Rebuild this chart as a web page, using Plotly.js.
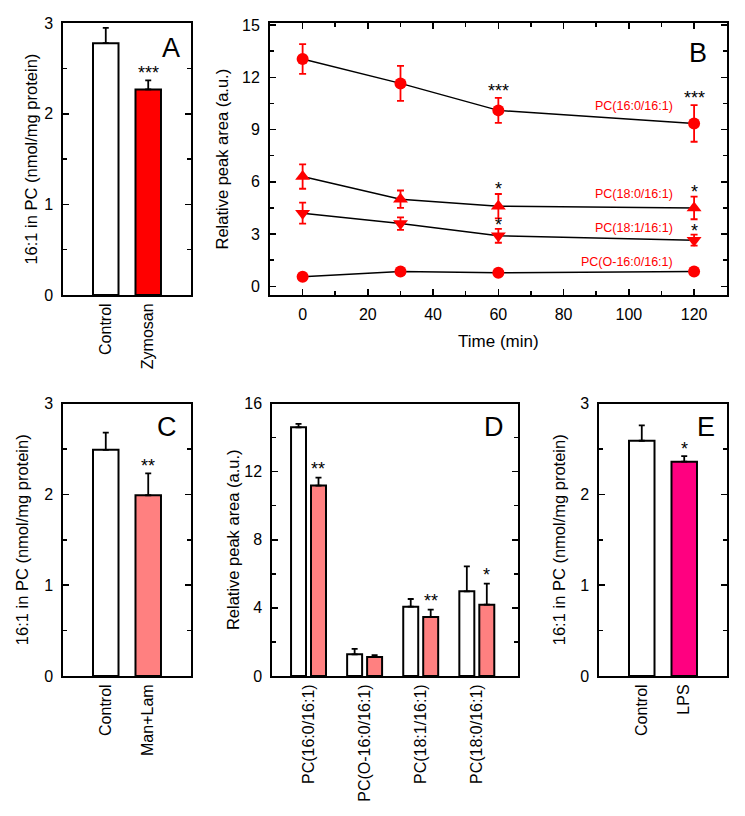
<!DOCTYPE html>
<html><head><meta charset="utf-8">
<script src="https://cdn.plot.ly/plotly-3.0.1.min.js"></script>
<style>html,body{margin:0;padding:0;background:#fff}#chart{width:745px;height:816px}</style>
</head><body><div id="chart"></div>
<script>
// ---------- Panel A ----------
const catsA = ['Control', 'Zymosan'];
const valsA = [2.78, 2.27];
const errA = [0.17, 0.10];
const starsA = ['', '***'];
// ---------- Panel B ----------
const timesB = [0, 30, 60, 120];
const pc160 = [13.05, 11.65, 10.1, 9.35];
const pc160Err = [0.85, 1.0, 0.72, 1.05];
const pc180 = [6.3, 5.0, 4.6, 4.5];
const pc180Err = [0.7, 0.5, 0.7, 0.65];
const pc181 = [4.2, 3.6, 2.9, 2.65];
const pc181Err = [0.6, 0.36, 0.4, 0.32];
const pcO160 = [0.55, 0.85, 0.78, 0.85];
const starsB160 = ['', '', '***', '***'];
const starsB180 = ['', '', '*', '*'];
const starsB181 = ['', '', '*', '*'];
const namesB = ['PC(16:0/16:1)', 'PC(18:0/16:1)', 'PC(18:1/16:1)', 'PC(O-16:0/16:1)'];
// ---------- Panel C ----------
const catsC = ['Control', 'Man+Lam'];
const valsC = [2.49, 1.99];
const errC = [0.19, 0.24];
const starsC = ['', '**'];
// ---------- Panel D ----------
const catsD = ['PC(16:0/16:1)', 'PC(O-16:0/16:1)', 'PC(18:1/16:1)', 'PC(18:0/16:1)'];
const ctrlD = [14.6, 1.27, 4.07, 4.97];
const ctrlDErr = [0.2, 0.32, 0.45, 1.47];
const manlamD = [11.18, 1.12, 3.46, 4.19];
const manlamDErr = [0.47, 0.11, 0.44, 1.23];
const starsD = ['**', '', '**', '*'];
// ---------- Panel E ----------
const catsE = ['Control', 'LPS'];
const valsE = [2.59, 2.36];
const errE = [0.17, 0.06];
const starsE = ['', '*'];

const FONT = 'Arial, "Liberation Sans", sans-serif';
const W = 745, H = 816;
const RED = '#ff0000', PINKRED = '#ff8080', MAGENTA = '#ff0080';

function zeros(a) { return a.map(() => 0); }
function upErr(arr) {
  return {type: 'data', array: arr, arrayminus: zeros(arr), symmetric: false,
          color: '#000', thickness: 1.8, width: 3};
}
function barTrace(x, y, err, colors, xa, ya, extra) {
  return Object.assign({
    type: 'bar', x: x, y: y, xaxis: xa, yaxis: ya,
    marker: {color: colors, line: {color: '#000', width: 2}},
    error_y: upErr(err), showlegend: false, hoverinfo: 'skip'
  }, extra || {});
}
function lineTrace(y, err, sym, xa, ya) {
  const t = {
    type: 'scatter', mode: 'lines+markers', x: timesB, y: y, xaxis: xa, yaxis: ya,
    line: {color: '#000', width: 1.5},
    marker: {color: RED, size: sym === 'circle' ? 12 : 13, symbol: sym},
    showlegend: false, hoverinfo: 'skip'
  };
  if (err) t.error_y = {type: 'data', array: err, symmetric: true, color: RED, thickness: 1.8, width: 3.5};
  return t;
}

const data = [
  barTrace(catsA, valsA, errA, ['#ffffff', RED], 'x', 'y', {width: 0.6}),
  lineTrace(pc160, pc160Err, 'circle', 'x2', 'y2'),
  lineTrace(pc180, pc180Err, 'triangle-up', 'x2', 'y2'),
  lineTrace(pc181, pc181Err, 'triangle-down', 'x2', 'y2'),
  lineTrace(pcO160, null, 'circle', 'x2', 'y2'),
  barTrace(catsC, valsC, errC, ['#ffffff', PINKRED], 'x3', 'y3', {width: 0.6}),
  barTrace(catsD, ctrlD, ctrlDErr, '#ffffff', 'x4', 'y4', {width: 0.267, offset: -0.311}),
  barTrace(catsD, manlamD, manlamDErr, PINKRED, 'x4', 'y4', {width: 0.267, offset: 0.045}),
  barTrace(catsE, valsE, errE, ['#ffffff', MAGENTA], 'x5', 'y5', {width: 0.6})
];

function px2x(a, b) { return [a / W, b / W]; }
function px2y(top, bottom) { return [1 - bottom / H, 1 - top / H]; }

function yAx(range, dtick, minorDtick, domain, anchor, title, standoff) {
  return {
    domain: domain, anchor: anchor, range: range, dtick: dtick, tick0: 0,
    showline: true, linewidth: 2, linecolor: '#000', mirror: 'ticks',
    ticks: 'inside', ticklen: 6, tickwidth: 1.5, tickcolor: '#000',
    minor: {ticks: 'inside', dtick: minorDtick, tick0: 0, ticklen: 4, tickwidth: 1.5, tickcolor: '#000', showgrid: false},
    showgrid: false, zeroline: false, ticklabelstandoff: 5,
    tickfont: {family: FONT, size: 16, color: '#000'},
    title: {text: title, font: {family: FONT, size: 16.5, color: '#000'}, standoff: standoff},
    fixedrange: true
  };
}
function catAx(range, domain, anchor) {
  return {
    type: 'category', domain: domain, anchor: anchor, range: range,
    showline: true, linewidth: 2, linecolor: '#000', mirror: true, ticks: '',
    tickangle: -90, showgrid: false, zeroline: false,
    tickfont: {family: FONT, size: 16, color: '#000'}, fixedrange: true
  };
}

const topRow = px2y(23.3, 295), botRow = px2y(403.5, 676);
const TITLE_Y = '16:1 in PC (nmol/mg protein)';

const layout = {
  width: W, height: H, margin: {l: 0, r: 0, t: 0, b: 0},
  paper_bgcolor: '#fff', plot_bgcolor: '#fff', showlegend: false, barmode: 'overlay',
  font: {family: FONT, color: '#000'},
  xaxis: catAx([-1, 2], px2x(63.3, 190.7), 'y'),
  yaxis: yAx([0, 3], 1, 0.5, topRow, 'x', TITLE_Y, 2),
  xaxis2: {
    domain: px2x(270, 726.7), anchor: 'y2', range: [-10, 130], dtick: 20, tick0: 0,
    showline: true, linewidth: 2, linecolor: '#000', mirror: 'ticks',
    ticks: 'inside', ticklen: 6, tickwidth: 1.5, tickcolor: '#000',
    minor: {ticks: 'inside', dtick: 10, tick0: 0, ticklen: 4, tickwidth: 1.5, tickcolor: '#000', showgrid: false},
    showgrid: false, zeroline: false, ticklabelstandoff: 4,
    tickfont: {family: FONT, size: 16, color: '#000'},
    title: {text: 'Time (min)', font: {family: FONT, size: 17, color: '#000'}, standoff: 13},
    fixedrange: true
  },
  yaxis2: yAx([-0.5, 15.1], 3, 1.5, topRow, 'x2', 'Relative peak area (a.u.)', 9),
  xaxis3: catAx([-1, 2], px2x(63.3, 190.7), 'y3'),
  yaxis3: yAx([0, 3], 1, 0.5, botRow, 'x3', TITLE_Y, 11),
  xaxis4: catAx([-0.645, 3.74], px2x(272.3, 518.3), 'y4'),
  yaxis4: yAx([0, 16], 4, 2, botRow, 'x4', 'Relative peak area (a.u.)', 1),
  xaxis5: catAx([-1, 2], px2x(599.3, 726.7), 'y5'),
  yaxis5: yAx([0, 3], 1, 0.5, botRow, 'x5', TITLE_Y, 10),
  annotations: []
};

const ann = layout.annotations;
function star(xa, ya, x, y, txt, shift) {
  if (!txt) return;
  ann.push({xref: xa, yref: ya, x: x, y: y, text: txt, showarrow: false,
            xanchor: 'center', yanchor: 'bottom', yshift: shift,
            font: {family: FONT, size: 18, color: '#000'}});
}
const SSHIFT = -5;
valsA.forEach((v, i) => star('x', 'y', i, v + errA[i], starsA[i], SSHIFT));
timesB.forEach((t, i) => {
  star('x2', 'y2', t, pc160[i] + pc160Err[i], starsB160[i], SSHIFT);
  star('x2', 'y2', t, pc180[i] + pc180Err[i], starsB180[i], SSHIFT - 2);
  star('x2', 'y2', t, pc181[i] + pc181Err[i], starsB181[i], SSHIFT - 3);
});
valsC.forEach((v, i) => star('x3', 'y3', i, v + errC[i], starsC[i], SSHIFT));
manlamD.forEach((v, i) => star('x4', 'y4', i + 0.178, v + manlamDErr[i], starsD[i], SSHIFT + 2));
valsE.forEach((v, i) => star('x5', 'y5', i, v + errE[i], starsE[i], SSHIFT));

// series labels in panel B
const labelY = [10.36, 5.32, 3.37, 1.38];
namesB.forEach((n, i) => ann.push({
  xref: 'x2', yref: 'y2', x: 114, y: labelY[i], text: n, showarrow: false,
  xanchor: 'right', yanchor: 'middle', font: {family: FONT, size: 12.5, color: RED}
}));

// panel letters
[['A', 'x', 'y', 0.845, 0.909], ['B', 'x2', 'y2', 0.937, 0.891], ['C', 'x3', 'y3', 0.814, 0.914],
 ['D', 'x4', 'y4', 0.903, 0.914], ['E', 'x5', 'y5', 0.841, 0.914]].forEach(p => ann.push({
  xref: p[1] + ' domain', yref: p[2] + ' domain', x: p[3], y: p[4], text: p[0], showarrow: false,
  xanchor: 'center', yanchor: 'middle', font: {family: FONT, size: 27, color: '#000'}
}));

Plotly.newPlot('chart', data, layout, {displayModeBar: false, staticPlot: true});
</script>
</body></html>
